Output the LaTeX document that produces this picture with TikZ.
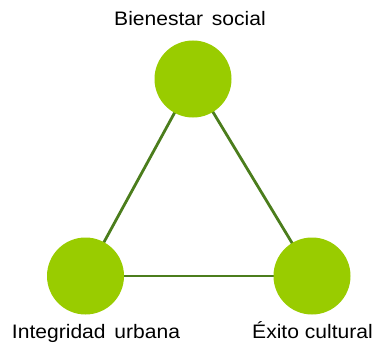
\documentclass[tikz,border=0pt]{standalone}
\usepackage{fontspec}
\setmainfont[FakeStretch=1.08]{Liberation Sans}
\usepackage{tikz}
\usetikzlibrary{backgrounds}
\definecolor{hoja}{HTML}{99CC00}
\definecolor{rama}{HTML}{4B7D1C}

\begin{document}
\begin{tikzpicture}[x=1pt, y=-1pt,
  punto/.style={circle, fill=hoja, minimum size=77pt, inner sep=0pt},
  lazo/.style={draw=rama, line width=2.8pt},
  rotulo/.style={font=\fontsize{19.5}{22}\selectfont, inner sep=0pt}]

\useasboundingbox (0,0) rectangle (375,345) ;
\node[punto] (social) at (193,79) {} ;
\node[punto] (urbana) at (85.5,276) {} ;
\node[punto] (cultural) at (312,276) {} ;
\begin{pgfonlayer}{background}
\draw[lazo] (social.center) -- (urbana.center) ;
\draw[lazo] (urbana.center) -- (cultural.center) ;
\draw[lazo] (cultural.center) -- (social.center) ;
\end{pgfonlayer}
\node[rotulo, anchor=base] (tsocial) at (190,26) {Bienestar\hspace{0.45em}social} ;
\node[rotulo, anchor=base] (turbana) at (96,338) {Integridad\hspace{0.45em}urbana} ;
\node[rotulo, anchor=base] (tcultural) at (312.5,338) {Éxito cultural} ;
\end{tikzpicture}
\end{document}
